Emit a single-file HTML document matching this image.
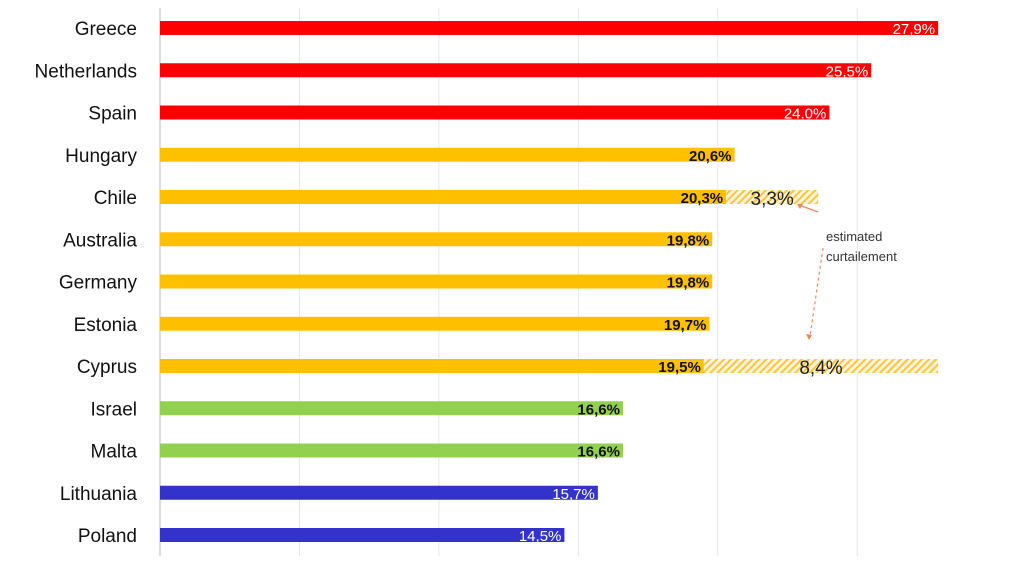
<!DOCTYPE html>
<html><head><meta charset="utf-8"><style>
html,body{margin:0;padding:0;background:#fff;width:1024px;height:571px;overflow:hidden}
text{font-family:"Liberation Sans",sans-serif}
</style></head><body>
<svg id="chart" width="1024" height="571" xmlns="http://www.w3.org/2000/svg">
<defs>
<pattern id="hatch" width="5" height="5" patternUnits="userSpaceOnUse" patternTransform="rotate(45)">
<rect width="5" height="5" fill="#fdf3d6"/><rect width="2" height="5" fill="#f6c54a"/>
</pattern>
</defs>
<g id="grid"></g>
<g id="bars"></g>
<g id="labels"></g>
<text x="826" y="241" font-size="13" fill="#333">estimated</text>
<text x="826" y="261" font-size="13" fill="#333">curtailement</text>
<line x1="818" y1="212" x2="799" y2="205" stroke="#f0875a" stroke-width="1.2"/>
<path d="M797 204 l6 0 l-3 5 z" fill="#f0875a"/>
<line x1="823" y1="248" x2="810" y2="336" stroke="#f0875a" stroke-width="1.2" stroke-dasharray="3,3"/>
<path d="M809 340 l-3 -6 l6 1 z" fill="#f0875a"/>
</svg>
<script>
const categories=["Greece","Netherlands","Spain","Hungary","Chile","Australia","Germany","Estonia","Cyprus","Israel","Malta","Lithuania","Poland"];
const values=[27.9,25.5,24.0,20.6,20.3,19.8,19.8,19.7,19.5,16.6,16.6,15.7,14.5];
const valueLabels=["27,9%","25,5%","24.0%","20,6%","20,3%","19,8%","19,8%","19,7%","19,5%","16,6%","16,6%","15,7%","14,5%"];
const groups=["red","red","red","yellow","yellow","yellow","yellow","yellow","yellow","green","green","blue","blue"];
const extra=[0,0,0,0,3.3,0,0,0,0,8.4,0,0,0].map((v,i)=>v);
const extraValues=[0,0,0,0,3.3,0,0,0,8.4,0,0,0,0];
const extraLabels=["","","","","3,3%","","","","8,4%","","","",""];
const gridTicks=[0,5,10,15,20,25];
const colors={red:"#ff0000",yellow:"#ffc000",green:"#92d050",blue:"#3333cc"};
const x0=160,pxPer=27.89;
const xs=v=>x0+v*pxPer;
const ys=i=>28+i*42.25;
const NS="http://www.w3.org/2000/svg";
function mk(t,a,p){const e=document.createElementNS(NS,t);for(const k in a)e.setAttribute(k,a[k]);p.appendChild(e);return e;}
const grid=document.getElementById('grid'),bars=document.getElementById('bars'),labels=document.getElementById('labels');
gridTicks.forEach(t=>{
 const l=mk('line',{x1:xs(t),x2:xs(t),y1:8,y2:556,stroke:t===0?"#bbb":"#e6e6e6","stroke-width":1},grid);
 
 
});
categories.forEach((c,i)=>{
 const y=ys(i);
 const t=mk('text',{x:137,y:y+7,"text-anchor":"end","font-size":19,fill:"#111"},labels);t.textContent=c;
 
 
 const r=mk('rect',{x:x0,y:y-7,width:xs(values[i])-x0,height:14,fill:colors[groups[i]]},bars);
 
 
 const light=groups[i]==="red"||groups[i]==="blue";
 const v=mk('text',{x:xs(values[i])-3,y:y+6,"text-anchor":"end","font-size":15,"font-weight":light?"normal":"bold",fill:light?"#fff":"#111"},labels);v.textContent=valueLabels[i];
 
 
 if(extraValues[i]>0){
  const s=xs(values[i]),e=xs(values[i]+extraValues[i]);
  const h=mk('rect',{x:s,y:y-7,width:e-s,height:14,fill:"url(#hatch)"},bars);
  
  
  const et=mk('text',{x:(s+e)/2,y:y+8,"text-anchor":"middle","font-size":19,fill:"#222"},labels);et.textContent=extraLabels[i];
  
  
 }
});
</script>
</body></html>
